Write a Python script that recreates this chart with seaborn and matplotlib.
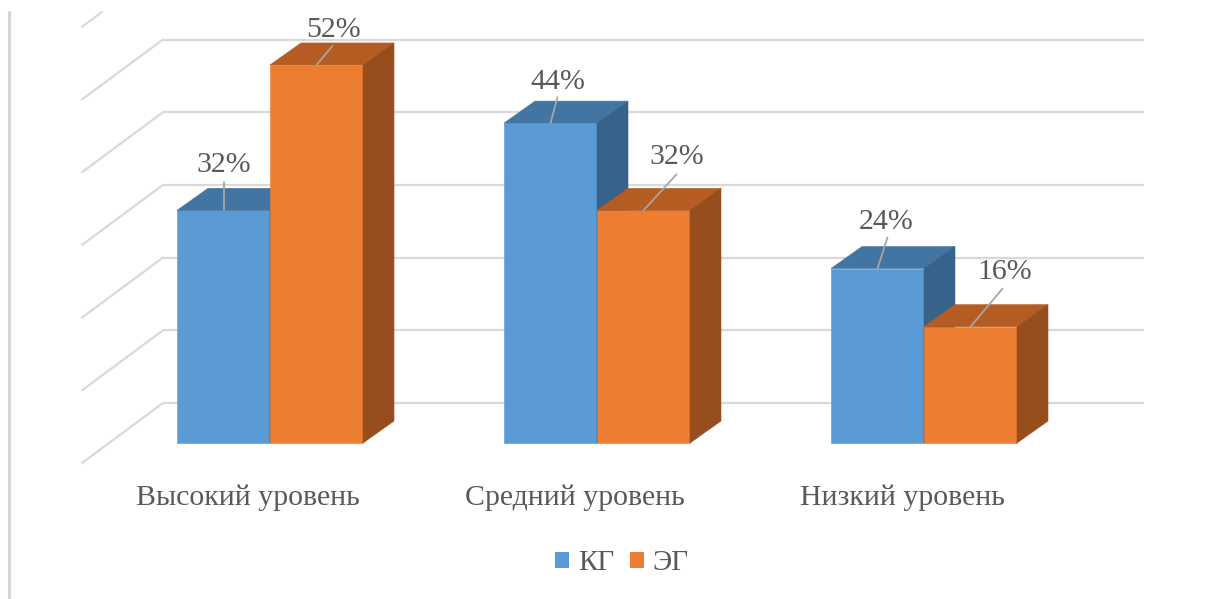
import matplotlib
matplotlib.use("Agg")
import matplotlib.pyplot as plt
import numpy as np
import pandas as pd
import seaborn as sns
from matplotlib.patches import Polygon, Patch

# data
levels = ["Высокий уровень", "Средний уровень", "Низкий уровень"]
groups = ["КГ", "ЭГ"]
kg_values = [32, 44, 24]
eg_values = [52, 32, 16]
grid_levels = [0, 10, 20, 30, 40, 50, 60]

# colours (front, top, side) per group
front_colors = ["#5B9BD5", "#ED7D31"]
top_colors = ["#4275A2", "#B45C22"]
side_colors = ["#37628A", "#984D1D"]
text_color = "#595959"
grid_color = "#D9D9D9"

# label placement in pixels: label dx, label dy, leader dx, leader dy
label_offsets = [
    [(0, 45, 0, 28), (7, 41, 7, 26), (9, 47, 10, 31)],
    [(17, 35, 16, 19), (33, 53, 33, 36), (34, 55, 32, 38)],
]

# pixel layout helpers (axes fill the whole figure)
W, H = 1210, 599
X0_PX, UNIT_PX = 270, 327
Y0_PX, PCT_PX = 443, 7.27


def xd(p):
    return (p - X0_PX) / UNIT_PX


def yd(p):
    return (Y0_PX - p) / PCT_PX


sns.set_style("white")
plt.rcParams["font.family"] = ["Liberation Serif", "DejaVu Serif"]

fig = plt.figure(figsize=(W / 100, H / 100), dpi=100)
ax = fig.add_axes([0, 0, 1, 1])

df = pd.DataFrame({
    "level": levels * 2,
    "group": [groups[0]] * len(levels) + [groups[1]] * len(levels),
    "value": kg_values + eg_values,
})
sns.barplot(data=df, x="level", y="value", hue="group", order=levels,
            hue_order=groups, palette=front_colors, width=186 / UNIT_PX,
            saturation=1, linewidth=0, errorbar=None, legend=False, ax=ax)

ax.set_xlim(xd(0), xd(W))
ax.set_ylim(yd(H), yd(0))
ax.axis("off")

# walls: back gridlines and side-wall diagonals
back_dy = yd(403)
front_dy = yd(463)
top_clip = yd(12)
for v in grid_levels:
    if v <= 50:
        ax.plot([xd(163), xd(1144)], [v + back_dy] * 2, color=grid_color,
                lw=1.6, zorder=1, solid_capstyle="butt")
    x_a, y_a = xd(82), v + front_dy
    x_b, y_b = xd(163), v + back_dy
    if y_b > top_clip:
        t = (top_clip - y_a) / (y_b - y_a)
        x_b, y_b = x_a + t * (x_b - x_a), top_clip
    ax.plot([x_a, x_b], [y_a, y_b], color=grid_color, lw=1.6, zorder=1)

# chart border on the left
ax.plot([xd(9)] * 2, [yd(12), yd(H)], color="#D4D4D4", lw=2.2, zorder=1)

# 3d depth of the bars
DX = 31 / UNIT_PX
DY = 22 / PCT_PX
values = [kg_values, eg_values]
for k, cont in enumerate(ax.containers):
    for j, bar in enumerate(cont):
        x0, w, h = bar.get_x(), bar.get_width(), bar.get_height()
        bar.set_zorder(2 + k)
        bar.set_edgecolor(front_colors[k])
        bar.set_linewidth(0.4)
        top = Polygon([(x0, h), (x0 + w, h), (x0 + w + DX, h + DY), (x0 + DX, h + DY)],
                      closed=True, fc=top_colors[k], ec=top_colors[k], lw=0.4, zorder=2 + k)
        side = Polygon([(x0 + w, 0), (x0 + w + DX, DY), (x0 + w + DX, h + DY), (x0 + w, h)],
                       closed=True, fc=side_colors[k], ec=side_colors[k], lw=0.4, zorder=2 + k)
        ax.add_patch(top)
        ax.add_patch(side)

        lx, ly, ex, ey = label_offsets[k][j]
        cx = x0 + w / 2
        ax.plot([cx, cx + ex / UNIT_PX], [h, h + ey / PCT_PX], color="#A6A6A6",
                lw=1.3, zorder=5)
        ax.text(cx + lx / UNIT_PX, h + ly / PCT_PX, f"{values[k][j]}%",
                ha="center", va="center", fontsize=21.5, color=text_color, zorder=6)

# category labels
for i, name in enumerate(levels):
    ax.text(i - 22 / UNIT_PX, yd(498), name, ha="center", va="center",
            fontsize=21.5, color=text_color)

handles = [Patch(facecolor=c, edgecolor="none") for c in front_colors]
fig.legend(handles, groups, loc="center", bbox_to_anchor=(622 / W, 1 - 563 / H),
           ncol=2, frameon=False, fontsize=21, labelcolor=text_color,
           handlelength=0.48, handleheight=0.48, handletextpad=0.3,
           columnspacing=0.55)

fig.savefig("out.png", dpi=100)
